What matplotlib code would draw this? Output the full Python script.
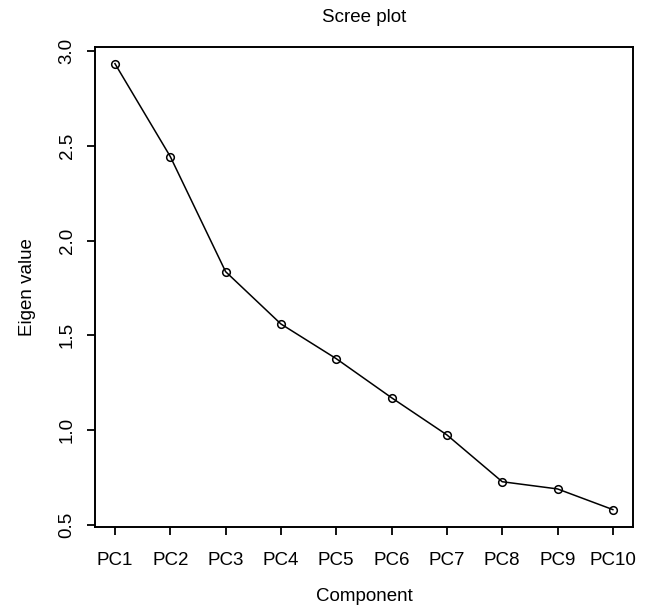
import matplotlib.pyplot as plt
import matplotlib as mpl

mpl.rcParams["font.family"] = ["Liberation Sans", "DejaVu Sans"]

components = ["PC1", "PC2", "PC3", "PC4", "PC5", "PC6", "PC7", "PC8", "PC9", "PC10"]
eigen = [2.933, 2.443, 1.836, 1.560, 1.377, 1.171, 0.975, 0.728, 0.690, 0.581]
yticks = [0.5, 1.0, 1.5, 2.0, 2.5, 3.0]

fig = plt.figure(figsize=(6.51, 6.10), dpi=100)
ax = fig.add_axes([0.146, 0.136, 0.826, 0.787])

x = list(range(1, len(components) + 1))
ax.plot(x, eigen, color="black", linewidth=1.1, marker="o", markersize=5.5,
        markerfacecolor="none", markeredgecolor="black", markeredgewidth=1.1)

ax.set_xlim(0.64, 10.36)
ax.set_ylim(0.489, 3.021)
ax.set_xticks(x)
ax.set_xticklabels(components)
ax.set_yticks(yticks)
ax.set_yticklabels([f"{v:.1f}" for v in yticks], rotation=90, va="center")

ax.tick_params(axis="both", direction="out", length=6, width=1.3, labelsize=13.5, pad=8)
ax.tick_params(axis="x", pad=12)
for s in ax.spines.values():
    s.set_linewidth(1.4)

ax.set_title("Scree plot", fontsize=13.5, pad=18)
ax.set_xlabel("Component", fontsize=13.5, labelpad=14)
ax.set_ylabel("Eigen value", fontsize=13.5, labelpad=16)

fig.savefig("out.png", dpi=100)
